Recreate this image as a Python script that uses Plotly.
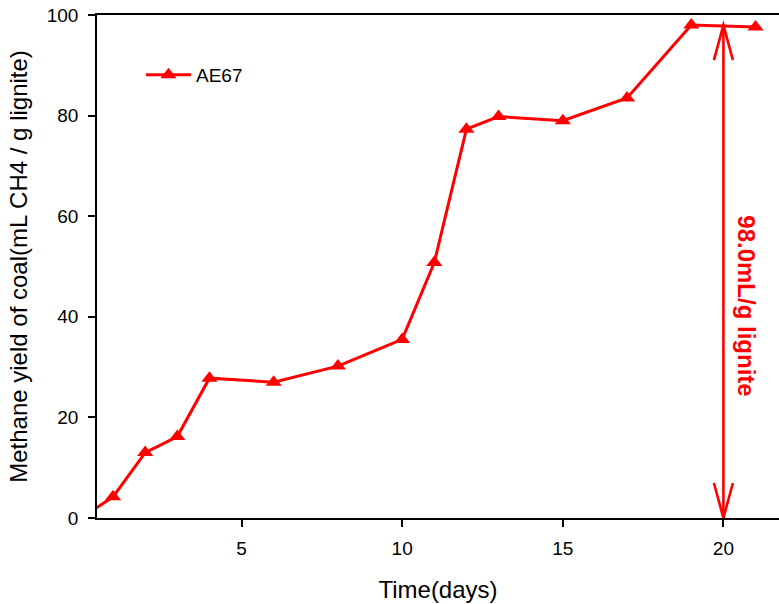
import plotly.graph_objects as go

# Cumulative methane yield of lignite over incubation time
days = [0, 1, 2, 3, 4, 6, 8, 10, 11, 12, 13, 15, 17, 19, 21]
methane_yield = [0, 4.2, 13.0, 16.2, 27.8, 27.0, 30.2, 35.5, 50.8, 77.3, 79.8, 79.0, 83.5, 98.0, 97.6]
series_name = "AE67"

x_ticks = [5, 10, 15, 20]
y_ticks = [0, 20, 40, 60, 80, 100]

# Maximum-yield marker (double arrow at day 20)
arrow_day = 20
arrow_value = 98.0
arrow_label = "98.0mL/g lignite"

W, H = 779, 604
M_L, M_R, M_T, M_B = 97, 0, 14.5, 86.3
x_range = [0.5, 21.73]
y_range = [0, 100]

RED = "#FF0000"
FONT = "Arial, Liberation Sans, sans-serif"

fig = go.Figure()
fig.add_trace(go.Scatter(
    x=days, y=methane_yield, name=series_name, mode="lines+markers",
    line=dict(color=RED, width=3),
    marker=dict(symbol="triangle-up", size=14, color=RED, line=dict(width=0)),
    cliponaxis=True,
))

# pixel-to-data conversion for the arrowhead geometry
px_per_x = (W - M_L - M_R) / (x_range[1] - x_range[0])
px_per_y = (H - M_T - M_B) / (y_range[1] - y_range[0])
head_len = 35 / px_per_y
head_half = 9.5 / px_per_x

arrow_style = dict(color=RED, width=2.6)
shapes = [
    dict(type="line", xref="x", yref="y", x0=arrow_day, x1=arrow_day,
         y0=0, y1=arrow_value, line=arrow_style),
    dict(type="path", xref="x", yref="y", line=arrow_style,
         path=f"M{arrow_day - head_half},{arrow_value - head_len} L{arrow_day},{arrow_value} "
              f"L{arrow_day + head_half},{arrow_value - head_len}"),
    dict(type="path", xref="x", yref="y", line=arrow_style,
         path=f"M{arrow_day - head_half},{head_len} L{arrow_day},0 "
              f"L{arrow_day + head_half},{head_len}"),
]

fig.add_annotation(
    x=arrow_day + 23 / px_per_x, y=42.2, xref="x", yref="y",
    text=f"<b>{arrow_label}</b>", showarrow=False, textangle=90,
    font=dict(family=FONT, size=24, color=RED),
)

axis_common = dict(
    showline=True, linecolor="black", linewidth=1.5,
    ticks="outside", ticklen=7, tickwidth=1.5, tickcolor="black",
    showgrid=False, zeroline=False,
    tickfont=dict(family=FONT, size=19, color="black"),
)

fig.update_layout(
    width=W, height=H,
    margin=dict(l=M_L, r=M_R, t=M_T, b=M_B, autoexpand=False),
    paper_bgcolor="white", plot_bgcolor="white",
    shapes=shapes,
    showlegend=True,
    legend=dict(
        x=(141 - M_L) / (W - M_L - M_R), y=1 - (74.5 - M_T) / (H - M_T - M_B),
        xanchor="left", yanchor="middle", bgcolor="rgba(0,0,0,0)",
        itemwidth=45,
        font=dict(family=FONT, size=19, color="black"),
    ),
    xaxis=dict(axis_common, range=x_range, tickvals=x_ticks, mirror=True,
               ticklabelstandoff=5,
               title=dict(text="Time(days)", standoff=24,
                          font=dict(family=FONT, size=24, color="black"))),
    yaxis=dict(axis_common, range=y_range, tickvals=y_ticks, ticklabelstandoff=6,
               title=dict(text="Methane yield of coal(mL CH4 / g lignite)", standoff=12,
                          font=dict(family=FONT, size=24, color="black"))),
)

fig.write_html("out.html")
